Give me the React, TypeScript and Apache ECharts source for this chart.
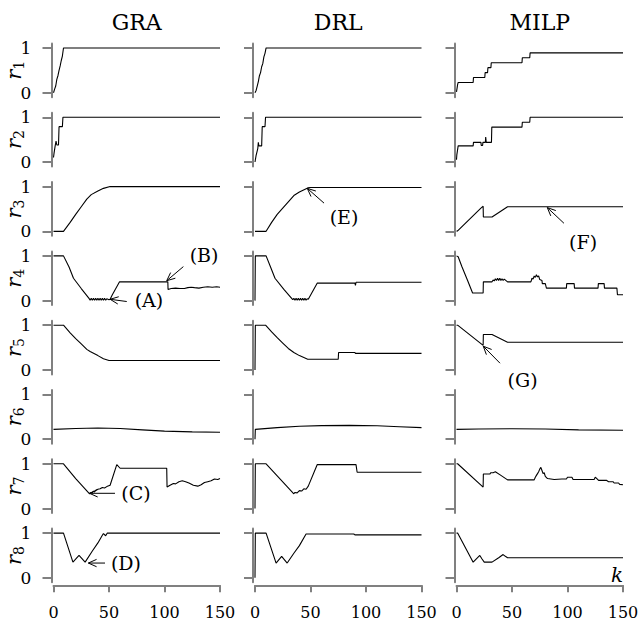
import React, { useEffect, useRef } from "react";
import * as echarts from "echarts";

// ---------------- data ----------------
const methods = ["GRA", "DRL", "MILP"];
const rowIndices = ["1", "2", "3", "4", "5", "6", "7", "8"];
const xTickValues = [0, 50, 100, 150];
const yTickValues = [0, 1];

const GRA_r1 = [[0,0],[1,0.08],[2,0.15],[3,0.3],[4,0.38],[5,0.5],[6,0.6],[7,0.72],[8,0.82],[9,1],[150,1]];
const GRA_r2 = [[0,0.1],[0.5,0.2],[1.5,0.36],[2.3,0.47],[3,0.38],[4.5,0.38],[5,0.79],[8,0.79],[8.5,1],[150,1]];
const GRA_r3 = [[0,0],[9,0],[15,0.2],[20,0.38],[25,0.55],[30,0.72],[34,0.82],[40,0.9],[45,0.96],[51,1],[150,1]];
const GRA_r4 = [[0,1],[9,1],[14,0.75],[18,0.5],[25,0.27],[32,0.05],[33,0.01],[34,0.05],[35,0.01],[36,0.05],[37,0.01],[38,0.05],[39,0.01],[40,0.05],[41,0.01],[42,0.05],[43,0.01],[44,0.05],[45,0.01],[46,0.05],[47,0.01],[48,0.04],[50,0.02],[51,0.03],[53,0.13],[59.5,0.42],[103,0.42],[103.2,0.25],[106,0.27],[110,0.28],[114,0.27],[118,0.27],[121,0.29],[124,0.3],[127,0.29],[131,0.28],[135,0.3],[139,0.31],[143,0.3],[147,0.31],[150,0.3]];
const GRA_r5 = [[0,1],[9,1],[15,0.83],[20,0.7],[25,0.58],[30,0.46],[33,0.41],[40,0.32],[45,0.25],[50,0.21],[150,0.21]];
const GRA_r6 = [[0,0.22],[20,0.24],[40,0.25],[60,0.24],[80,0.21],[100,0.18],[125,0.165],[150,0.155]];
const GRA_r7 = [[0,1],[9,1],[20,0.67],[32.5,0.33],[34,0.36],[35,0.35],[36,0.39],[37,0.37],[38,0.41],[40,0.43],[42,0.44],[44,0.47],[46,0.46],[48,0.49],[51,0.52],[57,0.98],[60,0.9],[102,0.9],[102.3,0.48],[105,0.52],[108,0.56],[110,0.55],[113,0.6],[116,0.62],[119,0.6],[122,0.57],[126,0.52],[130,0.5],[133,0.53],[136,0.58],[139,0.6],[142,0.62],[145,0.66],[148,0.65],[150,0.67]];
const GRA_r8 = [[0,1],[9,1],[17.5,0.35],[23,0.5],[28.5,0.35],[35,0.6],[40,0.78],[44,0.95],[45,0.99],[47,0.94],[48.5,1],[150,1]];

const DRL_r1 = [[0,0],[1,0.05],[2,0.15],[3,0.25],[4,0.38],[5,0.45],[6,0.58],[7,0.65],[8,0.8],[9,0.88],[10,1],[150,1]];
const DRL_r2 = [[0,0],[1,0.15],[2.5,0.3],[3,0.44],[3.5,0.36],[6,0.36],[6.5,0.79],[9,0.79],[9.5,1],[150,1]];
const DRL_r3 = [[0,0],[10,0],[15,0.2],[20,0.38],[25,0.52],[30,0.66],[35,0.8],[40,0.88],[47.5,0.97],[50,0.98],[150,0.98]];
const DRL_r4 = [[0,0],[0.3,1],[10,1],[14,0.75],[18,0.5],[26,0.25],[34,0.02],[35,0.05],[36,0.01],[37,0.05],[38,0.01],[39,0.05],[40,0.01],[41,0.05],[42,0.01],[43,0.05],[44,0.01],[45,0.05],[46,0.01],[47,0.04],[48,0.03],[56,0.39],[90,0.39],[90.5,0.34],[91,0.41],[150,0.41]];
const DRL_r5 = [[0,0],[0.3,1],[9.5,1],[15,0.85],[20,0.72],[25,0.6],[30,0.48],[35,0.39],[40,0.32],[47.5,0.24],[75,0.24],[75.3,0.39],[90,0.39],[90.5,0.37],[150,0.37]];
const DRL_r6 = [[0,0],[0.3,0.22],[20,0.26],[40,0.29],[60,0.305],[85,0.31],[110,0.3],[130,0.28],[150,0.26]];
const DRL_r7 = [[0,0],[0.3,1],[10,1],[20,0.73],[35,0.33],[36,0.36],[38,0.35],[40,0.4],[42,0.39],[44,0.44],[46,0.43],[48,0.5],[56,0.98],[91,0.98],[92,0.81],[150,0.81]];
const DRL_r8 = [[0,0],[0.3,1],[10,1],[19,0.33],[24,0.48],[29,0.33],[35,0.55],[40,0.72],[46,0.98],[89,0.98],[90,0.96],[150,0.96]];

const MILP_r1 = [[0,0.02],[1,0.18],[1.5,0.23],[15,0.23],[15.3,0.34],[25.5,0.34],[25.8,0.45],[28,0.45],[28.3,0.56],[31,0.56],[31.3,0.67],[59,0.67],[59.3,0.78],[66,0.78],[66.3,0.89],[150,0.89]];
const MILP_r2 = [[0,0.05],[0.3,0.16],[1.5,0.36],[15,0.36],[15.3,0.44],[22,0.44],[22.3,0.37],[23.5,0.37],[23.8,0.44],[26,0.44],[26.3,0.56],[26.8,0.44],[31.5,0.44],[31.8,0.78],[59,0.78],[59.3,0.89],[66,0.89],[66.3,1],[150,1]];
const MILP_r3 = [[0,0],[1,0.01],[22,0.52],[24,0.56],[24.2,0.32],[32,0.32],[46,0.55],[150,0.55]];
const MILP_r4 = [[0,1],[1.5,0.98],[5,0.75],[10,0.45],[14.5,0.17],[24,0.17],[24.2,0.42],[32,0.42],[33,0.46],[34,0.44],[35,0.49],[36,0.45],[37,0.5],[38,0.45],[39,0.5],[40,0.45],[41,0.49],[42,0.45],[43,0.48],[46,0.42],[67,0.42],[68,0.5],[69,0.48],[70,0.55],[71,0.52],[72,0.58],[73,0.53],[74,0.55],[75,0.47],[77,0.45],[77.3,0.38],[80,0.38],[81,0.28],[99,0.28],[99.3,0.38],[106,0.38],[106.3,0.28],[127.5,0.28],[127.8,0.38],[133,0.38],[133.3,0.28],[144.5,0.28],[145,0.13],[150,0.13]];
const MILP_r5 = [[0,1],[1,1],[24,0.55],[24.2,0.79],[32,0.79],[46,0.62],[150,0.62]];
const MILP_r6 = [[0,0.22],[20,0.23],[50,0.235],[80,0.23],[110,0.21],[150,0.2]];
const MILP_r7 = [[0,1],[1,1],[24,0.48],[24.2,0.77],[30,0.77],[31,0.8],[33,0.8],[35,0.82],[40,0.74],[46,0.64],[70,0.64],[71,0.7],[72,0.74],[73,0.78],[74,0.82],[75,0.88],[76,0.92],[77,0.85],[78,0.78],[79,0.8],[80,0.72],[82,0.67],[88,0.65],[95,0.66],[99,0.66],[100,0.7],[104,0.7],[105,0.65],[118,0.65],[124,0.65],[125,0.7],[126,0.68],[128,0.63],[135,0.63],[137,0.6],[141,0.6],[142,0.57],[146,0.57],[147,0.54],[150,0.53]];
const MILP_r8 = [[0,1],[1,1],[15,0.35],[19,0.45],[21,0.5],[23,0.42],[25,0.35],[32,0.35],[38,0.45],[42,0.52],[44,0.48],[46,0.45],[150,0.45]];

const GRA = [GRA_r1, GRA_r2, GRA_r3, GRA_r4, GRA_r5, GRA_r6, GRA_r7, GRA_r8];
const DRL = [DRL_r1, DRL_r2, DRL_r3, DRL_r4, DRL_r5, DRL_r6, DRL_r7, DRL_r8];
const MILP = [MILP_r1, MILP_r2, MILP_r3, MILP_r4, MILP_r5, MILP_r6, MILP_r7, MILP_r8];
const allData = [GRA, DRL, MILP];

// annotations: panel row/col, in data coordinates of that panel
const annotLabels = ["(A)", "(B)", "(C)", "(D)", "(E)", "(F)", "(G)"];
const annotPanels = [[3, 0], [3, 0], [6, 0], [7, 0], [2, 1], [2, 2], [4, 2]];
const annotTips = [[51, 0.03], [102, 0.445], [32.4, 0.34], [31.4, 0.33], [47.1, 0.96], [81.8, 0.53], [24.1, 0.53]];
const annotTails = [[66, -0.02], [117, 0.76], [55.4, 0.34], [46.4, 0.33], [62.2, 0.63], [96.8, 0.18], [39.2, 0.15]];
const annotTexts = [[86, 0.01], [135.6, 1.02], [74.3, 0.34], [65.3, 0.33], [80.2, 0.33], [114, -0.23], [59.5, -0.23]];

// ---------------- layout ----------------
const W = 639, H = 624;
const COL_LEFT = [53.5, 255, 456.5];
const COL_W = 166.5;
const ROW_TOP0 = 43.5;
const ROW_PITCH = 69.3;
const GRID_H = 53.7;
const YLABEL_X = 26;
const RNAME_X = 14;
const SERIF = "DejaVu Serif";
const AXIS_GRAY = "#808080";

export default function App() {
  const ref = useRef<HTMLDivElement>(null);
  useEffect(() => {
    document.body.style.margin = "0";
    if (!ref.current) return;
    const chart = echarts.init(ref.current, null, { renderer: "svg" });
    const grids: any[] = [];
    const xAxes: any[] = [];
    const yAxes: any[] = [];
    const series: any[] = [];
    for (let r = 0; r < 8; r++) {
      for (let c = 0; c < 3; c++) {
        const gi = r * 3 + c;
        grids.push({
          left: COL_LEFT[c], top: ROW_TOP0 + r * ROW_PITCH, width: COL_W, height: GRID_H,
          containLabel: false, outerBoundsMode: "none",
        });
        const bottom = r === 7;
        xAxes.push({
          type: "value", gridIndex: gi, min: 0, max: 150, interval: 50, show: bottom,
          position: "bottom", offset: 3,
          axisLine: { show: true, onZero: false, lineStyle: { color: AXIS_GRAY, width: 2 } },
          axisTick: { show: true, length: 7, lineStyle: { color: AXIS_GRAY, width: 2 }, customValues: xTickValues },
          axisLabel: { show: true, margin: 19, color: "#000", fontFamily: SERIF, fontSize: 16, customValues: xTickValues },
          splitLine: { show: false },
        });
        yAxes.push({
          type: "value", gridIndex: gi, min: -0.1, max: 1.1, offset: 2,
          axisLine: { show: true, onZero: false, lineStyle: { color: AXIS_GRAY, width: 2 } },
          axisTick: { show: true, length: 9, lineStyle: { color: AXIS_GRAY, width: 2 }, customValues: yTickValues },
          axisLabel: { show: false },
          splitLine: { show: false },
        });
        series.push({
          type: "line", xAxisIndex: gi, yAxisIndex: gi, data: allData[c][r],
          showSymbol: false, symbol: "none", silent: true,
          lineStyle: { color: "#000", width: 1.1 },
        });
      }
    }
    chart.setOption({ animation: false, grid: grids, xAxis: xAxes, yAxis: yAxes, series });

    const graphics: any[] = [];
    methods.forEach((m, c) => {
      graphics.push({
        type: "text", x: COL_LEFT[c] + COL_W / 2, y: 22,
        style: { text: m, fontFamily: SERIF, fontSize: 22, fill: "#000", align: "center", verticalAlign: "middle" },
      });
    });
    // row labels r_i and y tick labels for the first column
    for (let r = 0; r < 8; r++) {
      const gi = r * 3;
      yTickValues.forEach((v) => {
        const p = chart.convertToPixel({ gridIndex: gi }, [0, v]) as number[];
        graphics.push({
          type: "text", x: YLABEL_X, y: p[1],
          style: { text: String(v), fontFamily: SERIF, fontSize: 17, fill: "#000", align: "center", verticalAlign: "middle" },
        });
      });
      const mid = chart.convertToPixel({ gridIndex: gi }, [0, 0.5]) as number[];
      graphics.push({
        type: "text", x: RNAME_X, y: mid[1], rotation: Math.PI / 2,
        style: {
          text: `{r|r}{s|${rowIndices[r]}}`, align: "center", verticalAlign: "middle",
          rich: {
            r: { fontFamily: SERIF, fontStyle: "italic", fontSize: 21, lineHeight: 24, verticalAlign: "middle", fill: "#000" },
            s: { fontFamily: SERIF, fontSize: 14, lineHeight: 12, verticalAlign: "bottom", fill: "#000" },
          },
        },
      });
    }
    annotLabels.forEach((lab, i) => {
      const [r, c] = annotPanels[i];
      const gi = r * 3 + c;
      const tip = chart.convertToPixel({ gridIndex: gi }, annotTips[i]) as number[];
      const tail = chart.convertToPixel({ gridIndex: gi }, annotTails[i]) as number[];
      const txt = chart.convertToPixel({ gridIndex: gi }, annotTexts[i]) as number[];
      const ang = Math.atan2(tail[1] - tip[1], tail[0] - tip[0]);
      const hl = 9, ha = 0.42;
      const p1 = [tip[0] + hl * Math.cos(ang + ha), tip[1] + hl * Math.sin(ang + ha)];
      const p2 = [tip[0] + hl * Math.cos(ang - ha), tip[1] + hl * Math.sin(ang - ha)];
      graphics.push({ type: "line", shape: { x1: tail[0], y1: tail[1], x2: tip[0], y2: tip[1] }, style: { stroke: "#000", lineWidth: 1 } });
      graphics.push({ type: "polyline", shape: { points: [p1, tip, p2] }, style: { stroke: "#000", lineWidth: 1, fill: null } });
      graphics.push({
        type: "text", x: txt[0], y: txt[1],
        style: { text: lab, fontFamily: SERIF, fontSize: 19, fill: "#000", align: "center", verticalAlign: "middle" },
      });
    });
    const kPos = chart.convertToPixel({ gridIndex: 7 * 3 + 2 }, [144.6, 0.06]) as number[];
    graphics.push({
      type: "text", x: kPos[0], y: kPos[1],
      style: { text: "k", fontFamily: SERIF, fontStyle: "italic", fontSize: 20, fill: "#000", align: "center", verticalAlign: "middle" },
    });
    chart.setOption({ graphic: graphics });
    return () => chart.dispose();
  }, []);
  return <div ref={ref} style={{ width: W, height: H }} />;
}
